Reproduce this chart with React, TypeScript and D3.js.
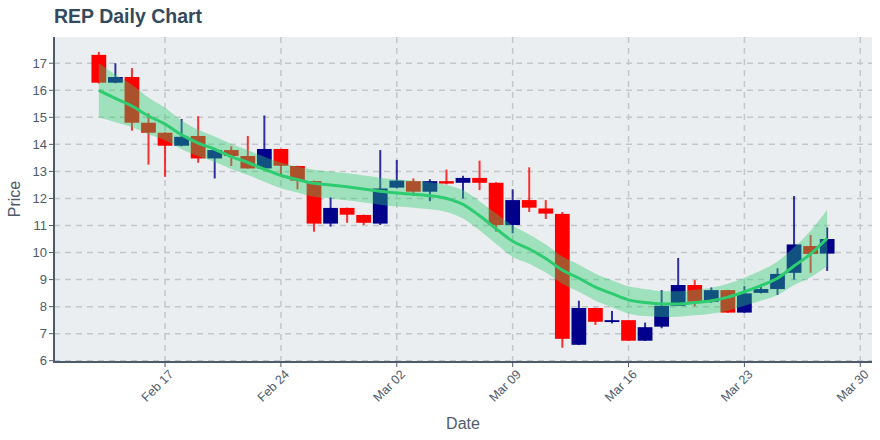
import React from "react";
import * as d3 from "d3";

const dates = [
  "2020-02-13", "2020-02-14", "2020-02-15", "2020-02-16", "2020-02-17", "2020-02-18", "2020-02-19",
  "2020-02-20", "2020-02-21", "2020-02-22", "2020-02-23", "2020-02-24", "2020-02-25", "2020-02-26",
  "2020-02-27", "2020-02-28", "2020-02-29", "2020-03-01", "2020-03-02", "2020-03-03", "2020-03-04",
  "2020-03-05", "2020-03-06", "2020-03-07", "2020-03-08", "2020-03-09", "2020-03-10", "2020-03-11",
  "2020-03-12", "2020-03-13", "2020-03-14", "2020-03-15", "2020-03-16", "2020-03-17", "2020-03-18",
  "2020-03-19", "2020-03-20", "2020-03-21", "2020-03-22", "2020-03-23", "2020-03-24", "2020-03-25",
  "2020-03-26", "2020-03-27", "2020-03-28",
];

const open = [
  17.31, 16.28, 16.49, 14.8, 14.43, 13.95, 14.31, 13.48, 13.79, 13.57, 13.11, 13.83, 13.2, 12.64, 11.07,
  11.65, 11.39, 11.07, 12.4, 12.64, 12.25, 12.64, 12.58, 12.76, 12.58, 11.02, 11.94, 11.63, 11.43, 6.59,
  7.95, 7.43, 7.5, 6.74, 7.26, 8.03, 8.8, 8.18, 8.61, 7.78, 8.51, 8.65, 9.25, 10.24, 9.96,
];
const high = [
  17.42, 17.0, 16.82, 15.15, 14.45, 14.94, 15.04, 13.84, 13.93, 14.31, 15.07, 13.84, 13.21, 12.66, 12.04,
  11.66, 11.4, 13.79, 13.42, 12.74, 12.71, 13.07, 12.84, 13.4, 12.6, 12.34, 13.15, 11.94, 11.5, 8.22,
  7.96, 7.84, 7.51, 7.41, 8.61, 9.8, 8.98, 8.71, 8.62, 8.76, 8.82, 9.42, 12.09, 10.65, 10.93,
];
const low = [
  16.25, 16.26, 14.51, 13.25, 12.8, 13.93, 13.32, 12.74, 13.2, 13.1, 13.1, 12.83, 12.34, 10.77, 10.96,
  11.1, 11.02, 11.02, 12.37, 12.1, 11.9, 12.52, 12.0, 12.31, 10.77, 10.71, 11.5, 11.24, 6.48, 6.58,
  7.32, 7.38, 6.73, 6.73, 7.2, 8.02, 8.02, 8.14, 7.77, 7.77, 8.49, 8.43, 9.0, 9.25, 9.32,
];
const close = [
  16.28, 16.49, 14.8, 14.43, 13.95, 14.28, 13.48, 13.79, 13.57, 13.11, 13.83, 13.21, 12.66, 11.07, 11.65,
  11.4, 11.1, 12.37, 12.66, 12.25, 12.64, 12.55, 12.76, 12.58, 11.02, 11.94, 11.66, 11.44, 6.81, 7.95,
  7.44, 7.5, 6.74, 7.24, 8.03, 8.8, 8.18, 8.61, 7.78, 8.49, 8.65, 9.21, 10.3, 9.95, 10.5,
];

// smoothed trend and half width of its band
const trend = [
  16.0, 15.7, 15.42, 15.05, 14.75, 14.35, 14.05, 13.82, 13.55, 13.33, 13.08, 12.85, 12.7, 12.56, 12.5,
  12.43, 12.35, 12.27, 12.2, 12.16, 12.1, 12.0, 11.78, 11.36, 10.88, 10.42, 10.13, 9.78, 9.35, 9.05,
  8.72, 8.48, 8.25, 8.15, 8.1, 8.1, 8.15, 8.22, 8.35, 8.55, 8.78, 9.05, 9.5, 9.95, 10.53,
];
const bandHalf = [
  1.0, 0.88, 0.78, 0.68, 0.6, 0.53, 0.49, 0.47, 0.46, 0.46, 0.46, 0.47, 0.48, 0.5, 0.5,
  0.5, 0.5, 0.5, 0.5, 0.5, 0.5, 0.5, 0.52, 0.54, 0.56, 0.58, 0.54, 0.52, 0.5, 0.5,
  0.5, 0.5, 0.5, 0.5, 0.48, 0.47, 0.47, 0.48, 0.5, 0.52, 0.56, 0.62, 0.7, 0.86, 1.05,
];

const xTicks = ["2020-02-17", "2020-02-24", "2020-03-02", "2020-03-09", "2020-03-16", "2020-03-23", "2020-03-30"];
const yTicks = [6, 7, 8, 9, 10, 11, 12, 13, 14, 15, 16, 17];

const W = 880;
const H = 440;
const margin = { top: 37, right: 8, bottom: 79, left: 54 };
const textColor = "#4d5b6d";

const App = () => {
  const parse = d3.utcParse("%Y-%m-%d");
  const days = dates.map((d) => parse(d) as Date);
  const hour = 3600 * 1000;

  const x = d3
    .scaleUtc()
    .domain([new Date(+days[0] - 65 * hour), new Date(+days[days.length - 1] + 65 * hour)])
    .range([margin.left, W - margin.right]);
  const y = d3
    .scaleLinear()
    .domain([5.99, 17.97])
    .range([H - margin.bottom, margin.top]);

  // body covers ~0.89 of a day
  const bodyW = x(new Date(+days[0] + 10.7 * hour)) - x(new Date(+days[0] - 10.7 * hour));
  const fmt = d3.utcFormat("%b %d");

  const pts = days.map((d, i) => ({ d, t: trend[i], h: bandHalf[i] }));
  const area = d3
    .area<any>()
    .x((p) => x(p.d))
    .y0((p) => y(p.t - p.h))
    .y1((p) => y(p.t + p.h))
    .curve(d3.curveMonotoneX);
  const line = d3
    .line<any>()
    .x((p) => x(p.d))
    .y((p) => y(p.t))
    .curve(d3.curveMonotoneX);

  const x0 = margin.left;
  const x1 = W - margin.right;
  const y0 = H - margin.bottom;
  const y1 = margin.top;

  return (
    <svg width={W} height={H} style={{ position: "absolute", left: 0, top: 0 }} fontFamily="'Liberation Sans', Arial, sans-serif">
      <rect x={0} y={0} width={W} height={H} fill="#fff" />
      <text x={54} y={23} fontSize={19.5} fontWeight="bold" fill="#34495e">
        REP Daily Chart
      </text>
      <rect x={x0} y={y1} width={x1 - x0} height={y0 - y1} fill="#ebeef0" />

      {/* grid */}
      {yTicks.map((t) => (
        <line key={"gy" + t} x1={x0} x2={x1} y1={y(t)} y2={y(t)} stroke="#c4c7ca" strokeWidth={1.5} strokeDasharray="6,5" />
      ))}
      {xTicks.map((t) => {
        const xx = x(parse(t) as Date);
        return <line key={"gx" + t} x1={xx} x2={xx} y1={y1} y2={y0} stroke="#c4c7ca" strokeWidth={1.5} strokeDasharray="6,5" />;
      })}

      {/* candles */}
      {days.map((d, i) => {
        const up = close[i] >= open[i];
        const c = up ? "#00008b" : "#ff0000";
        const cx = x(d);
        const top = y(Math.max(open[i], close[i]));
        const bot = y(Math.min(open[i], close[i]));
        return (
          <g key={"c" + i}>
            <line x1={cx} x2={cx} y1={y(high[i])} y2={y(low[i])} stroke={c} strokeWidth={2} strokeOpacity={0.8} />
            <rect x={cx - bodyW / 2} y={top} width={bodyW} height={Math.max(1.5, bot - top)} fill={c} />
          </g>
        );
      })}

      {/* trend band and line */}
      <path d={area(pts) || ""} fill="#2ecc71" fillOpacity={0.4} />
      <path d={line(pts) || ""} fill="none" stroke="#2ecc71" strokeWidth={3} />

      {/* axes */}
      <line x1={x0} x2={x0} y1={y1} y2={y0 + 1} stroke="#4d5b6d" strokeWidth={2} />
      <line x1={x0 - 1} x2={x1} y1={y0 + 1} y2={y0 + 1} stroke="#4d5b6d" strokeWidth={2} />
      {yTicks.map((t) => (
        <g key={"ty" + t}>
          <line x1={x0 - 5} x2={x0} y1={y(t)} y2={y(t)} stroke="#4d5b6d" strokeWidth={1} />
          <text x={x0 - 7} y={y(t)} dy="0.35em" textAnchor="end" fontSize={13} fill={textColor}>
            {t}
          </text>
        </g>
      ))}
      {xTicks.map((t) => {
        const xx = x(parse(t) as Date);
        return (
          <g key={"tx" + t}>
            <line x1={xx} x2={xx} y1={y0 + 1} y2={y0 + 6} stroke="#4d5b6d" strokeWidth={1} />
            <text
              transform={`translate(${xx + 6},${y0 + 11}) rotate(-45)`}
              textAnchor="end"
              dy="0.35em"
              fontSize={12.5}
              fill={textColor}
            >
              {fmt(parse(t) as Date)}
            </text>
          </g>
        );
      })}
      <text x={(x0 + x1) / 2} y={429} textAnchor="middle" fontSize={16} fill={textColor}>
        Date
      </text>
      <text transform={`translate(20,${(y0 + y1) / 2}) rotate(-90)`} textAnchor="middle" fontSize={16} fill={textColor}>
        Price
      </text>
    </svg>
  );
};

export default App;
